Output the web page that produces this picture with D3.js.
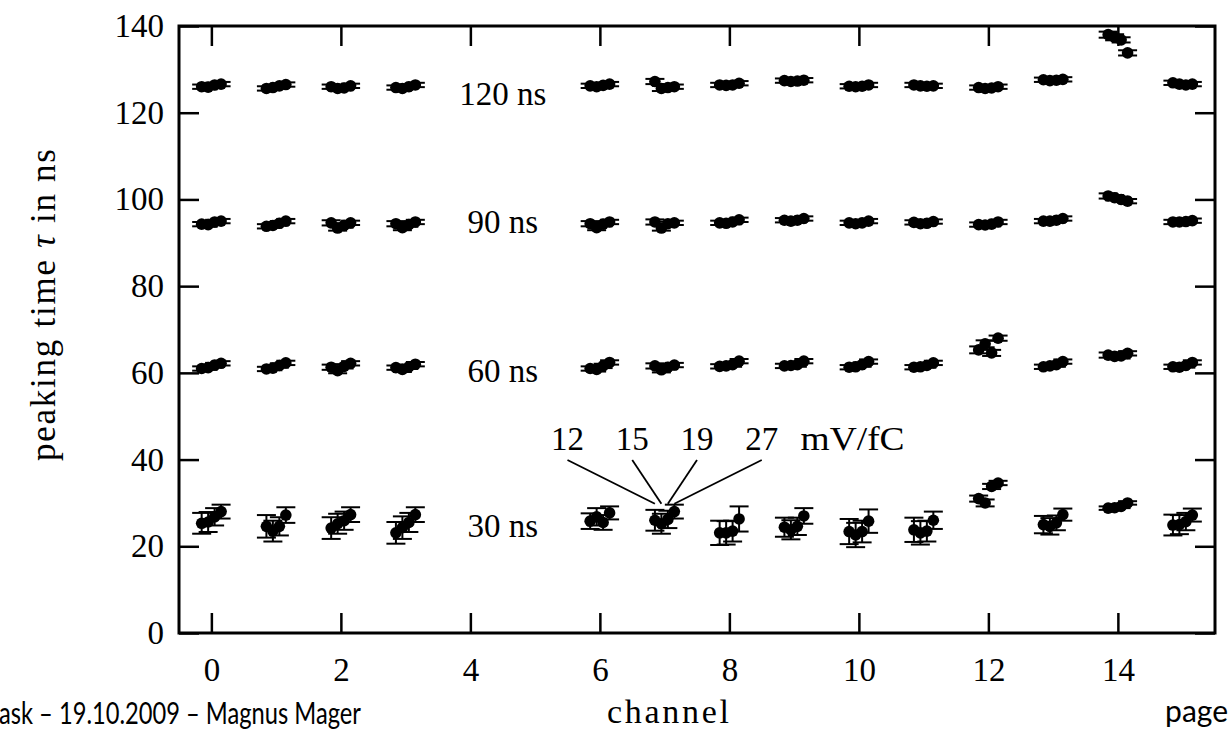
<!DOCTYPE html>
<html>
<head>
<meta charset="utf-8">
<script src="https://cdn.jsdelivr.net/npm/d3@7/dist/d3.min.js"></script>
<style>
    body { margin: 0; background: #fff; }
    svg text { font-family: "Liberation Serif", "DejaVu Serif", serif; fill: #000; }
    .foot { font-family: Lato, "Open Sans", sans-serif; }
</style>
</head>
<body>
<div id="chart"></div>
<script>
// channels that were measured (4 and 5 missing)
const channels = [0, 1, 2, 3, 6, 7, 8, 9, 10, 11, 12, 13, 14, 15];
// preamp gains in mV/fC
const gains = [12, 15, 19, 27];
const xTicks = [0, 2, 4, 6, 8, 10, 12, 14];
const yTicks = [0, 20, 40, 60, 80, 100, 120, 140];

// peaking time (ns), one row per gain, one value per channel
const peak30 = [
    [25.3, 24.6, 24.2, 23.1, 25.8, 26.0, 23.1, 24.4, 23.4, 23.8, 31.0, 25.0, 28.8, 24.9],
    [25.6, 23.5, 25.2, 24.3, 26.8, 25.2, 23.1, 23.8, 22.6, 23.1, 30.0, 24.6, 28.9, 25.0],
    [26.8, 24.6, 25.9, 25.5, 25.5, 26.2, 23.5, 24.6, 23.4, 23.5, 33.8, 25.4, 29.2, 25.7],
    [28.0, 27.2, 27.3, 27.3, 27.7, 28.0, 26.3, 27.0, 25.8, 26.0, 34.6, 27.3, 30.0, 27.2]
];
const err30 = [
    [2.4, 2.6, 2.5, 2.5, 1.8, 2.4, 2.8, 2.2, 2.9, 2.8, 0.7, 2.0, 0.4, 2.4],
    [2.3, 2.4, 2.3, 2.6, 2.0, 2.3, 2.7, 2.2, 2.8, 2.7, 0.8, 1.9, 0.4, 2.2],
    [2.0, 2.1, 2.1, 2.2, 1.7, 2.0, 2.4, 2.0, 2.5, 2.4, 0.6, 1.7, 0.4, 2.0],
    [1.6, 1.8, 1.7, 1.7, 1.5, 1.6, 2.9, 1.8, 2.7, 2.0, 0.5, 1.4, 0.4, 1.5]
];

const peak60 = [
    [61.0, 60.9, 61.3, 61.2, 61.0, 61.6, 61.5, 61.6, 61.3, 61.3, 65.3, 61.4, 64.1, 61.4],
    [61.2, 61.1, 60.5, 60.8, 60.8, 60.7, 61.6, 61.7, 61.4, 61.4, 66.7, 61.6, 63.8, 61.3],
    [61.8, 61.7, 61.5, 61.4, 61.6, 61.3, 61.9, 61.9, 61.9, 61.7, 64.6, 61.9, 63.9, 61.7],
    [62.2, 62.3, 62.2, 62.0, 62.4, 61.8, 62.7, 62.7, 62.6, 62.3, 68.0, 62.6, 64.5, 62.4]
];
const err60 = [
    [0.5, 0.5, 0.6, 0.5, 0.5, 0.6, 0.5, 0.5, 0.5, 0.5, 0.8, 0.5, 0.6, 0.5],
    [0.5, 0.5, 0.6, 0.6, 0.5, 0.6, 0.5, 0.5, 0.5, 0.5, 0.8, 0.5, 0.6, 0.5],
    [0.5, 0.5, 0.5, 0.5, 0.5, 0.5, 0.5, 0.5, 0.5, 0.5, 0.7, 0.5, 0.6, 0.5],
    [0.5, 0.5, 0.5, 0.5, 0.5, 0.5, 0.5, 0.5, 0.5, 0.5, 0.6, 0.5, 0.5, 0.5]
];

const peak90 = [
    [94.3, 93.8, 94.6, 94.4, 94.4, 94.8, 94.6, 95.2, 94.6, 94.7, 94.2, 95.0, 100.8, 94.8],
    [94.2, 94.0, 93.4, 93.5, 93.5, 93.4, 94.5, 95.0, 94.4, 94.4, 94.1, 95.0, 100.4, 94.8],
    [94.8, 94.5, 94.0, 94.2, 94.3, 94.4, 94.8, 95.2, 94.6, 94.5, 94.3, 95.2, 100.0, 94.9],
    [95.0, 95.0, 94.6, 94.8, 94.8, 94.6, 95.3, 95.6, 95.0, 94.9, 94.8, 95.6, 99.6, 95.1]
];
const err90 = [
    [0.5, 0.5, 0.6, 0.6, 0.6, 0.6, 0.5, 0.5, 0.5, 0.5, 0.5, 0.5, 0.6, 0.5],
    [0.5, 0.5, 0.6, 0.6, 0.6, 0.6, 0.5, 0.5, 0.5, 0.5, 0.5, 0.5, 0.6, 0.5],
    [0.5, 0.5, 0.5, 0.5, 0.5, 0.5, 0.5, 0.5, 0.5, 0.5, 0.5, 0.5, 0.5, 0.5],
    [0.5, 0.5, 0.5, 0.5, 0.5, 0.5, 0.5, 0.5, 0.5, 0.5, 0.5, 0.5, 0.5, 0.5]
];

const peak120 = [
    [126.0, 125.6, 126.0, 125.8, 126.2, 127.2, 126.4, 127.4, 126.1, 126.4, 125.8, 127.6, 138.0, 126.9],
    [125.9, 125.8, 125.6, 125.6, 126.0, 125.6, 126.3, 127.2, 126.0, 126.2, 125.6, 127.4, 137.4, 126.6],
    [126.4, 126.2, 125.7, 126.0, 126.3, 125.8, 126.4, 127.3, 126.1, 126.1, 125.7, 127.5, 136.8, 126.4],
    [126.6, 126.5, 126.2, 126.4, 126.6, 126.0, 126.8, 127.5, 126.4, 126.2, 126.0, 127.7, 133.8, 126.6]
];
const err120 = [
    [0.5, 0.5, 0.5, 0.5, 0.5, 0.6, 0.5, 0.5, 0.5, 0.5, 0.5, 0.5, 0.7, 0.5],
    [0.5, 0.5, 0.5, 0.5, 0.5, 0.6, 0.5, 0.5, 0.5, 0.5, 0.5, 0.5, 0.7, 0.5],
    [0.5, 0.5, 0.5, 0.5, 0.5, 0.5, 0.5, 0.5, 0.5, 0.5, 0.5, 0.5, 0.6, 0.5],
    [0.5, 0.5, 0.5, 0.5, 0.5, 0.5, 0.5, 0.5, 0.5, 0.5, 0.5, 0.5, 0.6, 0.5]
];

const bands = [
    {label: "30 ns", labelY: 22.1, values: peak30, errors: err30},
    {label: "60 ns", labelY: 57.9, values: peak60, errors: err60},
    {label: "90 ns", labelY: 92.3, values: peak90, errors: err90},
    {label: "120 ns", labelY: 121.8, values: peak120, errors: err120}
];

let totalWidth = 1230,
    totalHeight = 734,
    mLeft = 179,
    mRight = 1215,
    mTop = 26,
    mBottom = 633;

let fontSize = 33;
let tickLen = 20;
let capHalf = 9.5;
let dotR = 5.8;

let xScale = d3.scaleLinear().domain([-0.5, 15.5]).range([mLeft, mRight]);
let yScale = d3.scaleLinear().domain([0, 140]).range([mBottom, mTop]);

// small horizontal shift so the four gains of a channel do not sit on top of each other
function shift(g) {
    return (g - 1.5) * 0.1;
}

let svg = d3.select("#chart").append("svg")
    .attr("width", totalWidth)
    .attr("height", totalHeight);

function styleAxis(g) {
    g.select(".domain").remove();
    g.selectAll(".tick line").attr("stroke", "#000").attr("stroke-width", 2.5);
    g.selectAll(".tick text")
        .attr("font-size", fontSize)
        .attr("font-family", "Liberation Serif, serif")
        .attr("fill", "#000");
}

svg.append("g")
    .attr("transform", "translate(0," + mBottom + ")")
    .call(d3.axisBottom(xScale).tickValues(xTicks).tickSizeInner(-tickLen).tickSizeOuter(0).tickPadding(25))
    .call(styleAxis);

svg.append("g")
    .attr("transform", "translate(" + mLeft + ",0)")
    .call(d3.axisLeft(yScale).tickValues(yTicks).tickSizeInner(-tickLen).tickSizeOuter(0).tickPadding(15))
    .call(styleAxis);

svg.append("g")
    .attr("transform", "translate(0," + mTop + ")")
    .call(d3.axisTop(xScale).tickValues(xTicks).tickSizeInner(-tickLen).tickSizeOuter(0).tickFormat(""))
    .call(styleAxis);

svg.append("g")
    .attr("transform", "translate(" + mRight + ",0)")
    .call(d3.axisRight(yScale).tickValues(yTicks).tickSizeInner(-tickLen).tickSizeOuter(0).tickFormat(""))
    .call(styleAxis);

svg.append("rect")
    .attr("x", mLeft)
    .attr("y", mTop)
    .attr("width", mRight - mLeft)
    .attr("height", mBottom - mTop)
    .attr("fill", "none")
    .attr("stroke", "#000")
    .attr("stroke-width", 3);

// flatten into points
let points = [];
bands.forEach(function(b) {
    b.values.forEach(function(row, g) {
        row.forEach(function(v, i) {
            points.push({ch: channels[i], g: g, v: v, e: b.errors[g][i]});
        });
    });
});

let marks = svg.append("g");

let bars = marks.selectAll("g.bar")
    .data(points)
    .enter().append("g")
    .attr("class", "bar")
    .attr("stroke", "#000")
    .attr("stroke-width", 2);

bars.append("line")
    .attr("x1", d => xScale(d.ch + shift(d.g)))
    .attr("x2", d => xScale(d.ch + shift(d.g)))
    .attr("y1", d => yScale(d.v - d.e))
    .attr("y2", d => yScale(d.v + d.e));

bars.append("line")
    .attr("x1", d => xScale(d.ch + shift(d.g)) - capHalf)
    .attr("x2", d => xScale(d.ch + shift(d.g)) + capHalf)
    .attr("y1", d => yScale(d.v + d.e))
    .attr("y2", d => yScale(d.v + d.e));

bars.append("line")
    .attr("x1", d => xScale(d.ch + shift(d.g)) - capHalf)
    .attr("x2", d => xScale(d.ch + shift(d.g)) + capHalf)
    .attr("y1", d => yScale(d.v - d.e))
    .attr("y2", d => yScale(d.v - d.e));

marks.selectAll("circle")
    .data(points)
    .enter().append("circle")
    .attr("cx", d => xScale(d.ch + shift(d.g)))
    .attr("cy", d => yScale(d.v))
    .attr("r", dotR)
    .attr("fill", "#000");

// shaping time labels
svg.selectAll("text.band")
    .data(bands)
    .enter().append("text")
    .attr("class", "band")
    .attr("x", xScale(4.5))
    .attr("y", d => yScale(d.labelY))
    .attr("text-anchor", "middle")
    .attr("font-size", fontSize)
    .text(d => d.label);

// gain annotation pointing at channel 7, 30 ns
let gainLabelX = [5.5, 6.5, 7.5, 8.5];
let ann = svg.append("g");
ann.selectAll("text")
    .data(gains)
    .enter().append("text")
    .attr("x", (d, i) => xScale(gainLabelX[i]))
    .attr("y", yScale(42.2))
    .attr("text-anchor", "middle")
    .attr("font-size", fontSize)
    .text(d => d);
ann.append("text")
    .attr("x", xScale(9.1))
    .attr("y", yScale(42.2))
    .attr("font-size", fontSize)
    .attr("textLength", 104)
    .attr("lengthAdjust", "spacingAndGlyphs")
    .text("mV/fC");
ann.selectAll("line")
    .data(gains)
    .enter().append("line")
    .attr("x1", (d, i) => xScale(gainLabelX[i]))
    .attr("y1", yScale(39.9))
    .attr("x2", (d, i) => xScale(7 + shift(i)))
    .attr("y2", yScale(29.8))
    .attr("stroke", "#000")
    .attr("stroke-width", 1.8);

// axis titles
let yTitle = svg.append("text")
    .attr("transform", "translate(55,305) rotate(-90)")
    .attr("text-anchor", "middle")
    .attr("font-size", 35)
    .attr("textLength", 312)
    .attr("lengthAdjust", "spacing");
yTitle.append("tspan").text("peaking time ");
yTitle.append("tspan").attr("font-style", "italic").text("τ");
yTitle.append("tspan").text(" in ns");

svg.append("text")
    .attr("x", 668)
    .attr("y", 723)
    .attr("text-anchor", "middle")
    .attr("font-size", 34)
    .attr("textLength", 122)
    .attr("lengthAdjust", "spacing")
    .text("channel");

// slide footer
svg.append("text")
    .attr("class", "foot")
    .attr("x", -1)
    .attr("y", 724)
    .attr("font-size", 30)
    .attr("textLength", 362)
    .attr("lengthAdjust", "spacingAndGlyphs")
    .text("ask – 19.10.2009 – Magnus Mager");

svg.append("text")
    .attr("class", "foot")
    .attr("x", 1228)
    .attr("y", 722)
    .attr("text-anchor", "end")
    .attr("font-size", 30)
    .text("page");
</script>
</body>
</html>
